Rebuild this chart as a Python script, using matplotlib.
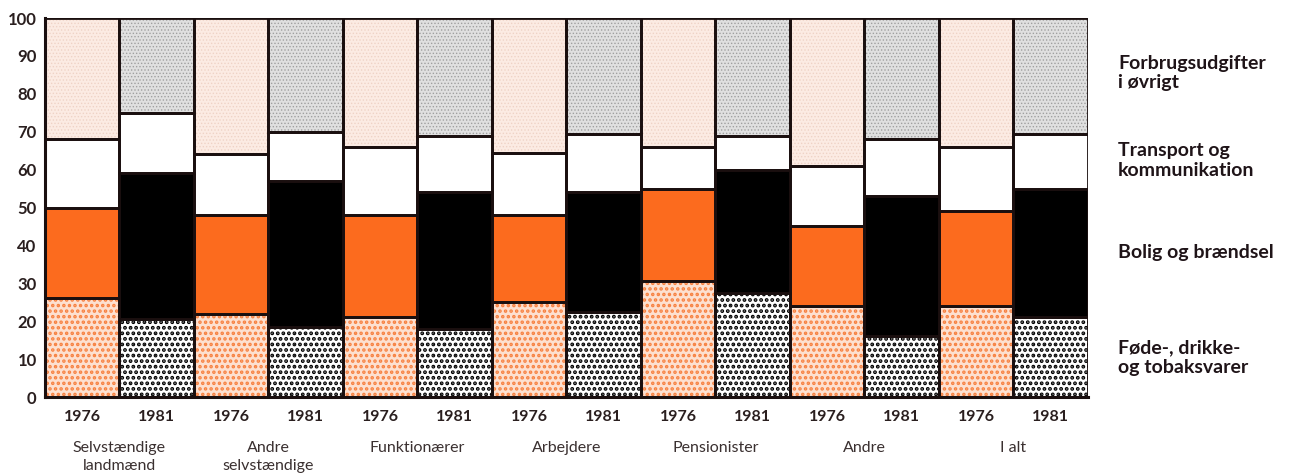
import matplotlib
matplotlib.use("Agg")
import matplotlib.pyplot as plt
import numpy as np

plt.rcParams['font.family'] = ['Lato', 'DejaVu Sans']
plt.rcParams['hatch.linewidth'] = 1.6

# forbrugets fordeling i procent, 1976 og 1981
grupper = ["Selvstændige\nlandmænd", "Andre\nselvstændige", "Funktionærer",
           "Arbejdere", "Pensionister", "Andre", "I alt"]
aar = ["1976", "1981"]

fode_76 = [26, 22, 21, 25, 30.5, 24, 24]
bolig_76 = [24, 26, 27, 23, 24.5, 21, 25]
transport_76 = [18, 16, 18, 16.5, 11, 16, 17]
ovrigt_76 = [32, 36, 34, 35.5, 34, 39, 34]

fode_81 = [20.5, 18.5, 18, 22.5, 27.5, 16, 21]
bolig_81 = [38.5, 38.5, 36, 31.5, 32.5, 37, 34]
transport_81 = [16, 13, 15, 15.5, 9, 15, 14.5]
ovrigt_81 = [25, 30, 31, 30.5, 31, 32, 30.5]

kategorier = ["Føde-, drikke-\nog tobaksvarer", "Bolig og brændsel",
              "Transport og\nkommunikation", "Forbrugsudgifter\ni øvrigt"]

# (facecolor, hatch, hatchfarve, hatch-linjebredde) pr. kategori og år
stil_76 = [("#fde0d0", "...", "#f7803f", 1.7),
           ("#fc6b1e", None, None, 0),
           ("white", None, None, 0),
           ("#fcebe3", ".....", "#efd3c6", 0.6)]
stil_81 = [("white", "...", "black", 1.9),
           ("black", None, None, 0),
           ("white", None, None, 0),
           ("#e0e0e0", ".....", "#a0a0a0", 0.6)]

fig = plt.figure(figsize=(12.96, 4.74), dpi=100)
ax = fig.add_axes([0.0347, 0.1624, 0.8048, 0.7996])

x76 = np.arange(len(grupper)) * 2
x81 = x76 + 1


def tegn(x, serier, stil):
    bund = np.zeros(len(x))
    for vals, (fc, hatch, hc, hlw) in zip(serier, stil):
        vals = np.array(vals, dtype=float)
        bars = ax.bar(x, vals, width=1, bottom=bund, color=fc,
                      edgecolor=hc if hatch else fc, linewidth=0,
                      hatch=hatch, align="edge", zorder=2)
        if hatch:
            for p in bars:
                if hasattr(p, "set_hatch_linewidth"):
                    p.set_hatch_linewidth(hlw)
        ax.bar(x, vals, width=1, bottom=bund, fill=False,
               edgecolor="#1a0f0f", linewidth=2, align="edge", zorder=3)
        bund += vals


tegn(x76, [fode_76, bolig_76, transport_76, ovrigt_76], stil_76)
tegn(x81, [fode_81, bolig_81, transport_81, ovrigt_81], stil_81)

ax.set_xlim(0, 14)
ax.set_ylim(0, 100)
ax.set_yticks(range(0, 101, 10))
ax.tick_params(axis="y", length=0, pad=6, labelsize=12, labelcolor="#2a1f1f")
for t in ax.get_yticklabels():
    t.set_fontweight("bold")

xt = np.concatenate([x76, x81]) + 0.5
ax.set_xticks(xt)
ax.set_xticklabels(aar[:1] * len(x76) + aar[1:] * len(x81),
                   fontsize=11.5, fontweight="bold", color="#2a1f1f")
ax.tick_params(axis="x", length=0, pad=9)

for s in ["top", "right"]:
    ax.spines[s].set_visible(False)
for s in ["left", "bottom"]:
    ax.spines[s].set_linewidth(2.2)
    ax.spines[s].set_color("#1a0f0f")
    ax.spines[s].set_zorder(4)

trans = ax.get_xaxis_transform()
for i, navn in enumerate(grupper):
    ax.text(x76[i] + 1, -0.115, navn, transform=trans, ha="center", va="top",
            fontsize=11.5, color="#3a3030", linespacing=1.4)

# kategorinavne til højre
ypos = [0.105, 0.38, 0.625, 0.855]
for navn, yp in zip(kategorier, ypos):
    ax.text(1.029, yp, navn, transform=ax.transAxes, ha="left", va="center",
            fontsize=14, fontweight="bold", color="#1f1418", linespacing=1.2)

fig.savefig("out.png", dpi=100)
